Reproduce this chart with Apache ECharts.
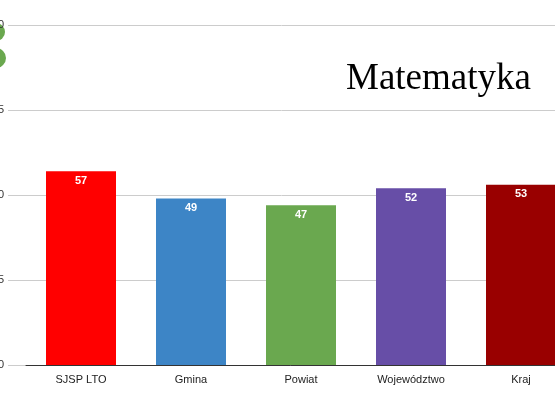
<!DOCTYPE html>
<html><head><meta charset="utf-8">
<script src="https://cdn.jsdelivr.net/npm/echarts@6/dist/echarts.min.js"></script>
<style>html,body{margin:0;padding:0;background:#fff}#c{width:555px;height:400px}</style>
</head><body><div id="c"></div>
<script>
// dane wykresu
const categories = ['SJSP LTO', 'Gmina', 'Powiat', 'Województwo', 'Kraj'];
const values = [57, 49, 47, 52, 53];
const colors = ['#ff0000', '#3d85c6', '#6aa84f', '#674ea7', '#990000'];

const chart = echarts.init(document.getElementById('c'));
chart.setOption({
  animation: false,
  title: {
    text: 'Matematyka', left: 341, top: 56,
    textStyle: {fontFamily: 'Liberation Serif', fontWeight: 'normal', fontSize: 37, color: '#000'}
  },
  graphic: [
    {type: 'circle', shape: {cx: -4, cy: 32, r: 9}, style: {fill: '#6aa84f'}},
    {type: 'circle', shape: {cx: -4, cy: 58, r: 10}, style: {fill: '#6aa84f'}}
  ],
  grid: [
    {left: 26, right: -21, top: 25, bottom: 35, outerBoundsMode: 'none', containLabel: false},
    {left: 8, right: 0, top: 25, bottom: 35, outerBoundsMode: 'none', containLabel: false}
  ],
  xAxis: [
    {type: 'category', gridIndex: 0, data: categories,
     axisLine: {lineStyle: {color: '#333'}}, axisTick: {show: false},
     axisLabel: {color: '#222', fontSize: 11, fontFamily: 'Liberation Sans', margin: 9}},
    {type: 'category', gridIndex: 1, data: [''], show: false}
  ],
  yAxis: [
    {type: 'value', gridIndex: 0, min: 0, max: 100, interval: 25, show: false},
    {type: 'value', gridIndex: 1, min: 0, max: 100, interval: 25,
     axisLine: {show: false}, axisTick: {show: false},
     axisLabel: {color: '#333', fontSize: 11, margin: 4},
     splitLine: {lineStyle: {color: '#ccc'}}}
  ],
  series: [{
    type: 'bar', xAxisIndex: 0, yAxisIndex: 0, barWidth: 70,
    data: values.map((v, i) => ({value: v, itemStyle: {color: colors[i]}})),
    label: {show: true, position: 'insideTop', distance: 4, color: '#fff',
            fontWeight: 'bold', fontSize: 11, fontFamily: 'Liberation Sans'}
  }]
});
</script></body></html>
